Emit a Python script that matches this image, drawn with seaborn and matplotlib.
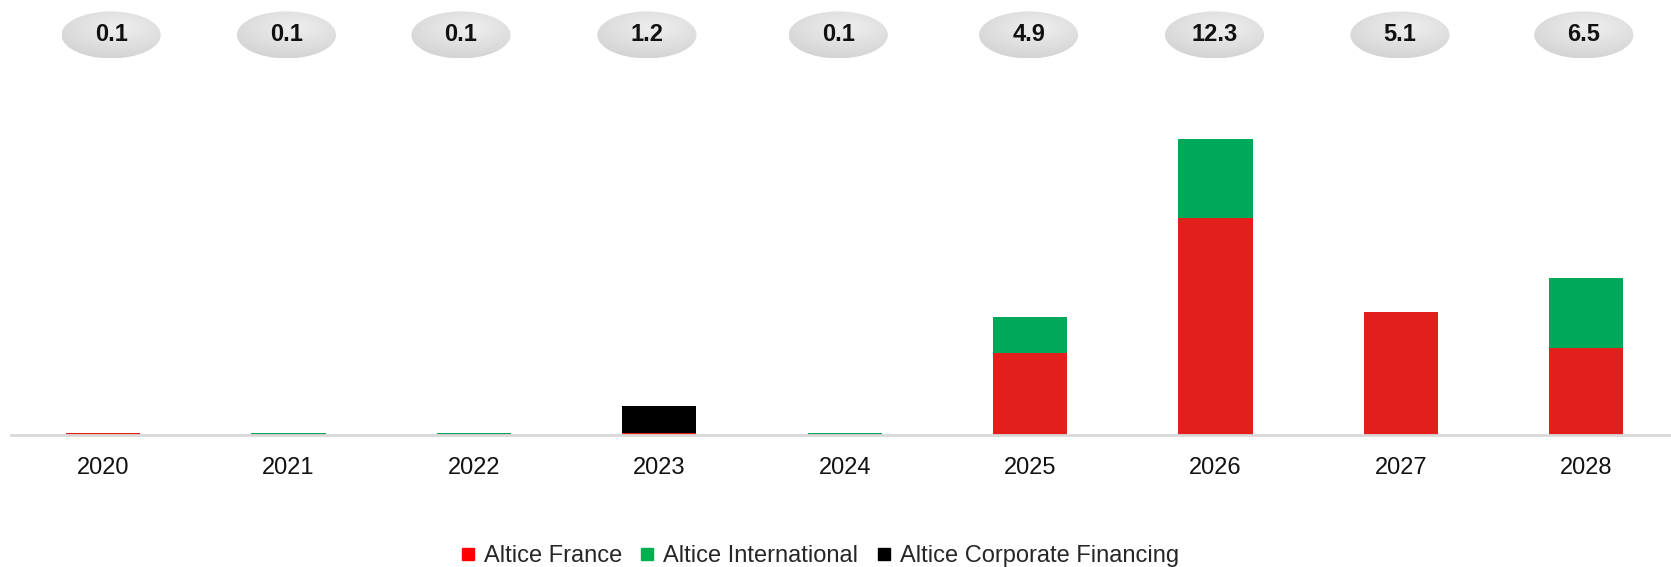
import numpy as np
import pandas as pd
import matplotlib
matplotlib.use("Agg")
import matplotlib.pyplot as plt
import seaborn as sns
from matplotlib.patches import Ellipse
from matplotlib.lines import Line2D

# Debt maturities by year (EUR bn)
years = ["2020", "2021", "2022", "2023", "2024", "2025", "2026", "2027", "2028"]
altice_france = [0.1, 0.05, 0.05, 0.1, 0.05, 3.4, 9.0, 5.1, 3.6]
altice_international = [0.0, 0.05, 0.05, 0.0, 0.05, 1.5, 3.3, 0.0, 2.9]
corporate_financing = [0.0, 0.0, 0.0, 1.1, 0.0, 0.0, 0.0, 0.0, 0.0]

series_names = ["Altice France", "Altice International", "Altice Corporate Financing"]
bar_colors = ["#E31F1B", "#00A85A", "#000000"]
legend_colors = ["#FF0000", "#00B050", "#000000"]

# small horizontal nudges of the total bubbles (in category units)
bubble_nudge = [0.043, -0.011, -0.070, -0.067, -0.035, -0.008, -0.005, -0.005, -0.013]

sns.set_theme(style="white")
plt.rcParams["font.family"] = ["Liberation Sans", "DejaVu Sans"]

df = pd.DataFrame({
    "year": years,
    "france": altice_france,
    "international": altice_international,
    "corporate": corporate_financing,
})
df["lvl1"] = df["france"]
df["lvl2"] = df["lvl1"] + df["international"]
df["lvl3"] = df["lvl2"] + df["corporate"]

W, H = 1671, 567
fig = plt.figure(figsize=(W / 100, H / 100), dpi=100)
ax = fig.add_axes([11 / W, (H - 435) / H, 1 - 11 / W, 435 / H])

# stacked bars: draw cumulative heights from the top segment down
for col, color in [("lvl3", bar_colors[2]), ("lvl2", bar_colors[1]), ("lvl1", bar_colors[0])]:
    sns.barplot(data=df, x="year", y=col, color=color, saturation=1,
                width=0.4, errorbar=None, linewidth=0, ax=ax)

ax.set_xlabel("")
ax.set_ylabel("")
ax.set_yticks([])
for s in ["top", "left", "right"]:
    ax.spines[s].set_visible(False)
ax.spines["bottom"].set_color("#D9D9D9")
ax.spines["bottom"].set_linewidth(2)
ax.tick_params(axis="x", length=0, pad=16, labelsize=17, labelcolor="#111111")

# total bubbles above each year
bub_y = 16.6
bub_w = 0.535
bub_h = 1.95
gy, gx = np.mgrid[-1:1:120j, -1:1:200j]
grad = np.sqrt(((gx - 0.15) * 0.9) ** 2 + (gy + 0.3) ** 2)
bub_cmap = matplotlib.colors.LinearSegmentedColormap.from_list("bub", ["#EFEFEF", "#D0D0D0"])
for i, total in enumerate(df["lvl3"]):
    cx = i + bubble_nudge[i]
    ell = Ellipse((cx, bub_y), bub_w, bub_h, facecolor="none", edgecolor="none")
    ax.add_patch(ell)
    img = ax.imshow(grad, cmap=bub_cmap, vmin=0, vmax=1.5,
                    extent=(cx - bub_w / 2, cx + bub_w / 2, bub_y - bub_h / 2, bub_y + bub_h / 2),
                    aspect="auto", origin="upper", zorder=3, interpolation="bilinear")
    img.set_clip_path(ell)
    ax.text(cx, bub_y, f"{total:.1f}", ha="center", va="center",
            fontsize=17, fontweight="bold", color="#111111", zorder=4)

ax.set_xlim(-0.497, 8.457)
ax.set_ylim(0, 18.05)

handles = [Line2D([], [], marker="s", linestyle="", color=c, markersize=9)
           for c in legend_colors]
fig.legend(handles, series_names, loc="center", ncol=3, frameon=False,
           bbox_to_anchor=(820 / W, 1 - 556 / H), fontsize=17,
           handlelength=0.55, handletextpad=0.4, columnspacing=0.8)

fig.savefig("out.png", dpi=100)
